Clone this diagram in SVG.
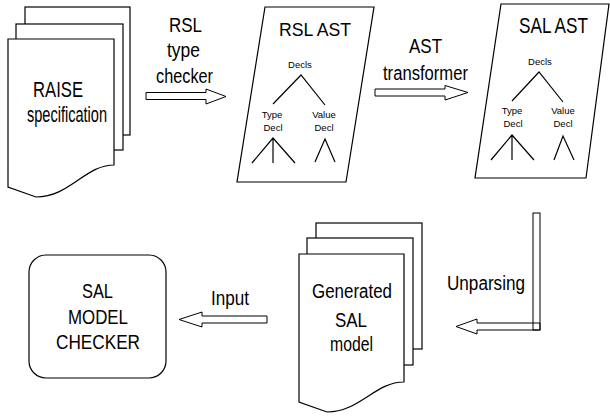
<svg xmlns="http://www.w3.org/2000/svg" width="610" height="416" viewBox="0 0 610 416">
<style>
.pg{fill:#fff;stroke:#000;stroke-width:1.2}
.ln{fill:none;stroke:#000;stroke-width:1.2}
.ar{fill:#fff;stroke:#000;stroke-width:1}
text{font-family:"Liberation Sans",Arial,sans-serif;fill:#000}
.big{font-size:22px}
.mid{font-size:20px}
.sm{font-size:9.5px;text-anchor:middle}
</style>
<rect width="610" height="416" fill="#fff"/>
<g id="raise-spec">
<rect class="pg" x="25" y="7" width="105" height="128"/>
<rect class="pg" x="16" y="24" width="107" height="126"/>
<path class="pg" d="M8,39 H114 V165 C85,165 70,197 36,197 L8,187 Z"/>
<text class="big" x="33" y="97" textLength="50" lengthAdjust="spacingAndGlyphs">RAISE</text>
<text class="big" x="27" y="122" textLength="80" lengthAdjust="spacingAndGlyphs">specification</text>
</g>
<g id="rsl-ast">
<polygon class="pg" points="265,7 374,7 346,182 237,182"/>
<text style="font-size:18px" x="279" y="36" textLength="72" lengthAdjust="spacingAndGlyphs">RSL AST</text>
<text class="sm" x="300" y="68">Decls</text>
<path class="ln" d="M273,104 L301,75 L325,105"/>
<text class="sm" x="272" y="118">Type</text>
<text class="sm" x="273" y="131">Decl</text>
<text class="sm" x="324" y="118">Value</text>
<text class="sm" x="324" y="131">Decl</text>
<path class="ln" d="M252,163 L273,138 L295,163 M273,138 V163 M315,162 L325,139 L335,162"/>
</g>
<g id="sal-ast">
<polygon class="pg" points="501,4 609,4 586,178 475,178"/>
<text class="big" x="519" y="33" textLength="69" lengthAdjust="spacingAndGlyphs">SAL AST</text>
<text class="sm" x="540" y="65">Decls</text>
<path class="ln" d="M512,101 L539,72 L563,102"/>
<text class="sm" x="512" y="114">Type</text>
<text class="sm" x="513" y="127">Decl</text>
<text class="sm" x="563" y="114">Value</text>
<text class="sm" x="563" y="127">Decl</text>
<path class="ln" d="M491,160 L512,135 L534,160 M512,135 V160 M554,160 L563,136 L574,160"/>
</g>
<g id="generated-sal">
<rect class="pg" x="316" y="223" width="106" height="126"/>
<rect class="pg" x="307" y="238" width="106" height="127"/>
<path class="pg" d="M299,254 H404 V382 C375,382 360,412 327,412 L299,402 Z"/>
<text class="mid" x="312" y="298" textLength="80" lengthAdjust="spacingAndGlyphs">Generated</text>
<text class="mid" x="335" y="327" textLength="32" lengthAdjust="spacingAndGlyphs">SAL</text>
<text class="mid" x="330" y="351" textLength="43" lengthAdjust="spacingAndGlyphs">model</text>
</g>
<g id="sal-model-checker">
<rect class="pg" x="29" y="255" width="137" height="123" rx="17" ry="17"/>
<text class="mid" x="82" y="298" textLength="31" lengthAdjust="spacingAndGlyphs">SAL</text>
<text class="mid" x="68" y="324" textLength="60" lengthAdjust="spacingAndGlyphs">MODEL</text>
<text class="mid" x="56" y="349" textLength="84" lengthAdjust="spacingAndGlyphs">CHECKER</text>
</g>
<g id="connectors">
<polygon class="ar" points="146,92.5 206,92.5 206,89 226,96.5 206,104 206,99.5 146,99.5"/>
<text class="mid" x="169" y="32" textLength="33" lengthAdjust="spacingAndGlyphs">RSL</text>
<text class="mid" x="167" y="57" textLength="33" lengthAdjust="spacingAndGlyphs">type</text>
<text class="mid" x="156" y="83" textLength="57" lengthAdjust="spacingAndGlyphs">checker</text>
<polygon class="ar" points="375,89 445,89 445,85.5 468,92.5 445,100 445,96 375,96"/>
<text class="mid" x="409" y="53" textLength="33" lengthAdjust="spacingAndGlyphs">AST</text>
<text class="mid" x="383" y="80" textLength="85" lengthAdjust="spacingAndGlyphs">transformer</text>
<rect class="ar" x="533" y="213" width="7" height="117" style="fill:none"/>
<polygon class="ar" style="fill:none" points="540,323 477,323 477,319 456,326.5 477,334 477,330 540,330"/>
<text class="mid" x="447" y="290" textLength="78" lengthAdjust="spacingAndGlyphs">Unparsing</text>
<polygon class="ar" points="267,316 202,316 202,312 179,319.5 202,327 202,323 267,323"/>
<text class="mid" x="211" y="305" textLength="38" lengthAdjust="spacingAndGlyphs">Input</text>
</g>
</svg>
